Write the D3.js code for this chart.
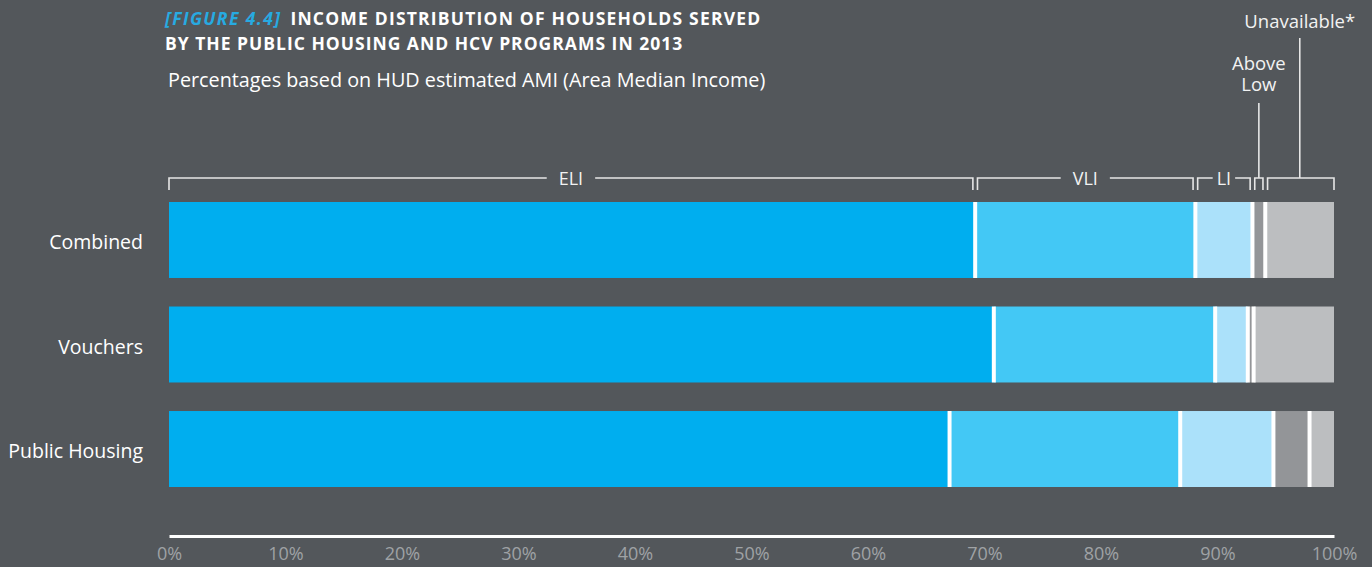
<!DOCTYPE html>
<html>
<head>
<meta charset="utf-8">
<script src="https://cdn.jsdelivr.net/npm/d3@7"></script>
<style>
  html, body { margin: 0; padding: 0; background: #53575b; }
  svg { display: block; }
  text { font-family: "Open Sans", "DejaVu Sans", sans-serif; }
</style>
</head>
<body>
<svg id="chart" width="1372" height="567"></svg>
<script>
// Households by program, share (%) in each AMI income group
const categories = ["Combined", "Vouchers", "Public Housing"];
const incomeGroups = ["ELI", "VLI", "LI", "Above Low", "Unavailable*"];
const eli         = [69.2, 70.8, 67.0];
const vli         = [18.9, 19.0, 19.8];
const li          = [4.9, 2.8, 8.0];
const aboveLow    = [1.1, 0.5, 3.1];
const unavailable = [5.9, 6.9, 2.1];
const tickValues  = [0, 10, 20, 30, 40, 50, 60, 70, 80, 90, 100];
const groupColors = ["#00aeef", "#43c8f5", "#abe1fa", "#939598", "#bcbec0"];

const series = [eli, vli, li, aboveLow, unavailable];
const rows = categories.map((c, i) => {
  const r = { category: c };
  incomeGroups.forEach((g, k) => { r[g] = series[k][i]; });
  return r;
});

const svg = d3.select("#chart");
const W = 1372;
const margin = { left: 169, right: 38 };

const x = d3.scaleLinear().domain([0, 100]).range([margin.left, W - margin.right]);
const y = d3.scaleBand().domain(categories).range([202, 487]).paddingInner(0.273).paddingOuter(0);

const stack = d3.stack().keys(incomeGroups)(rows);
const color = d3.scaleOrdinal().domain(incomeGroups).range(groupColors);

// Title
const titleSize = 17.5, titleSpacing = 1;
const title = svg.append("text").attr("x", 165).attr("y", 25)
  .attr("font-size", titleSize).attr("font-weight", 700).attr("letter-spacing", titleSpacing)
  .attr("fill", "#ffffff");
title.append("tspan").text("[FIGURE 4.4]").attr("fill", "#27aae1").attr("font-style", "italic")
  .attr("letter-spacing", 1.4);
title.append("tspan").attr("dx", 9).attr("letter-spacing", 1.2).text("INCOME DISTRIBUTION OF HOUSEHOLDS SERVED");
svg.append("text").attr("x", 165).attr("y", 50)
  .attr("font-size", titleSize).attr("font-weight", 700).attr("letter-spacing", titleSpacing)
  .attr("fill", "#ffffff")
  .text("BY THE PUBLIC HOUSING AND HCV PROGRAMS IN 2013");
svg.append("text").attr("x", 168).attr("y", 87)
  .attr("font-size", 19.8).attr("fill", "#ffffff")
  .text("Percentages based on HUD estimated AMI (Area Median Income)");

// Stacked bars
const layers = svg.append("g").selectAll("g").data(stack).join("g")
  .attr("fill", d => color(d.key));
layers.selectAll("rect").data(d => d).join("rect")
  .attr("x", d => x(d[0]))
  .attr("y", d => y(d.data.category))
  .attr("width", d => x(d[1]) - x(d[0]))
  .attr("height", y.bandwidth());

// White separators between segments
const seps = [];
stack.slice(0, -1).forEach(layer => layer.forEach(d => seps.push({ v: d[1], cat: d.data.category })));
svg.append("g").selectAll("line").data(seps).join("line")
  .attr("x1", d => x(d.v)).attr("x2", d => x(d.v))
  .attr("y1", d => y(d.cat)).attr("y2", d => y(d.cat) + y.bandwidth())
  .attr("stroke", "#ffffff").attr("stroke-width", 4);

// Category labels
svg.append("g").selectAll("text").data(categories).join("text")
  .attr("x", 143).attr("y", d => y(d) + y.bandwidth() / 2 + 9)
  .attr("text-anchor", "end").attr("font-size", 19.5).attr("fill", "#ffffff")
  .text(d => d);

// Brackets over the Combined bar
const bracketY = 178, tickDown = 12, inset = 2.3;
const combined = stack.map(layer => ({ key: layer.key, a: layer[0][0], b: layer[0][1] }));
const bk = svg.append("g").attr("stroke", "#e6e6e6").attr("stroke-width", 1.6).attr("fill", "none");
combined.forEach((s, i) => {
  const x0 = x(s.a) + (s.a > 0 ? inset : 0);
  const x1 = x(s.b) - (s.b < 100 ? inset : 0);
  const mid = (x0 + x1) / 2;
  if (i < 3) {
    const lbl = svg.append("text").attr("x", mid).attr("y", bracketY + 7)
      .attr("text-anchor", "middle").attr("font-size", 18).attr("fill", "#f2f2f2")
      .text(s.key);
    const tw = lbl.node().getComputedTextLength();
    const gap = (x1 - x0) > 100 ? 12 : 4;
    bk.append("path").attr("d", `M${x0},${bracketY + tickDown}V${bracketY}H${mid - tw / 2 - gap}`);
    bk.append("path").attr("d", `M${mid + tw / 2 + gap},${bracketY}H${x1}V${bracketY + tickDown}`);
  } else {
    bk.append("path").attr("d", `M${x0},${bracketY + tickDown}V${bracketY}H${x1}V${bracketY + tickDown}`);
  }
});

// Leader lines and outside labels for the two narrow groups
const aboveSeg = combined[3], unavSeg = combined[4];
const aboveMid = (x(aboveSeg.a) + inset + x(aboveSeg.b) - inset) / 2;
const unavMid = (x(unavSeg.a) + inset + x(unavSeg.b)) / 2 - 1;
bk.append("line").attr("x1", aboveMid).attr("x2", aboveMid).attr("y1", bracketY).attr("y2", 103);
bk.append("line").attr("x1", unavMid).attr("x2", unavMid).attr("y1", bracketY).attr("y2", 38);
const aboveLbl = svg.append("text").attr("text-anchor", "middle")
  .attr("font-size", 18.5).attr("fill", "#f2f2f2");
["Above", "Low"].forEach((w, i) => {
  aboveLbl.append("tspan").attr("x", aboveMid).attr("y", 70 + i * 20.5).text(w);
});
svg.append("text").attr("x", unavMid).attr("y", 28).attr("text-anchor", "middle")
  .attr("font-size", 18.5).attr("fill", "#f2f2f2").text(incomeGroups[4]);

// Bottom axis
const axis = svg.append("g").attr("transform", "translate(0,536)")
  .call(d3.axisBottom(x).tickValues(tickValues).tickFormat(d => d + "%").tickSize(0).tickPadding(8));
axis.select(".domain").attr("stroke", "#ffffff").attr("stroke-width", 3);
axis.selectAll("text").attr("font-size", 18).attr("fill", "#9fa2a5")
  .attr("font-family", "\"Open Sans\", sans-serif").attr("dy", "0.9em");
</script>
</body>
</html>
